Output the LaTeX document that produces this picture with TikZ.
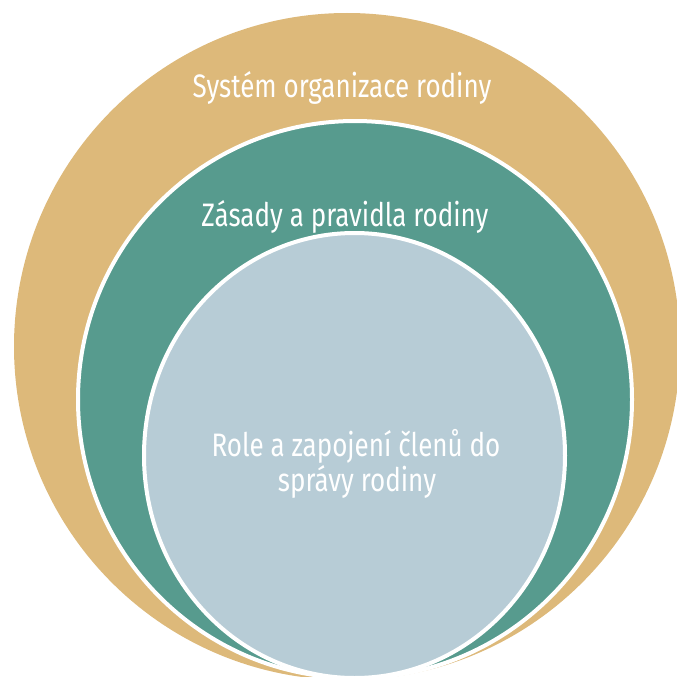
\documentclass[tikz,border=0pt]{standalone}
\usepackage{fontspec}
\setmainfont{Fira Sans}[FakeStretch=0.8]
\definecolor{tanc}{RGB}{221,185,122}
\definecolor{tealc}{RGB}{87,155,142}
\definecolor{bluec}{RGB}{183,204,214}
\begin{document}
\begin{tikzpicture}[x=1pt,y=-1pt,
  ring/.style={draw=white,line width=4pt},
  lbl/.style={text=white,font=\fontsize{32.5}{36}\selectfont,anchor=base,align=center}]
\useasboundingbox (0,0) rectangle (677,677);
\clip (0,0) rectangle (677,677);
\fill[tanc] (347,346.5) ellipse [x radius=333, y radius=333.5];
\filldraw[ring,fill=tealc] (355,399.5) ellipse [x radius=277, y radius=278.5];
\filldraw[ring,fill=bluec] (354.5,455.5) ellipse [x radius=210.5, y radius=222.5];
\node[lbl] (t1) at (342,97) {Systém organizace rodiny};
\node[lbl] (t2) at (345,226) {Zásady a pravidla rodiny};
\node[lbl] (t3) at (356,456) {Role a zapojení členů do};
\node[lbl] (t4) at (357,491) {správy rodiny};
\end{tikzpicture}
\end{document}
